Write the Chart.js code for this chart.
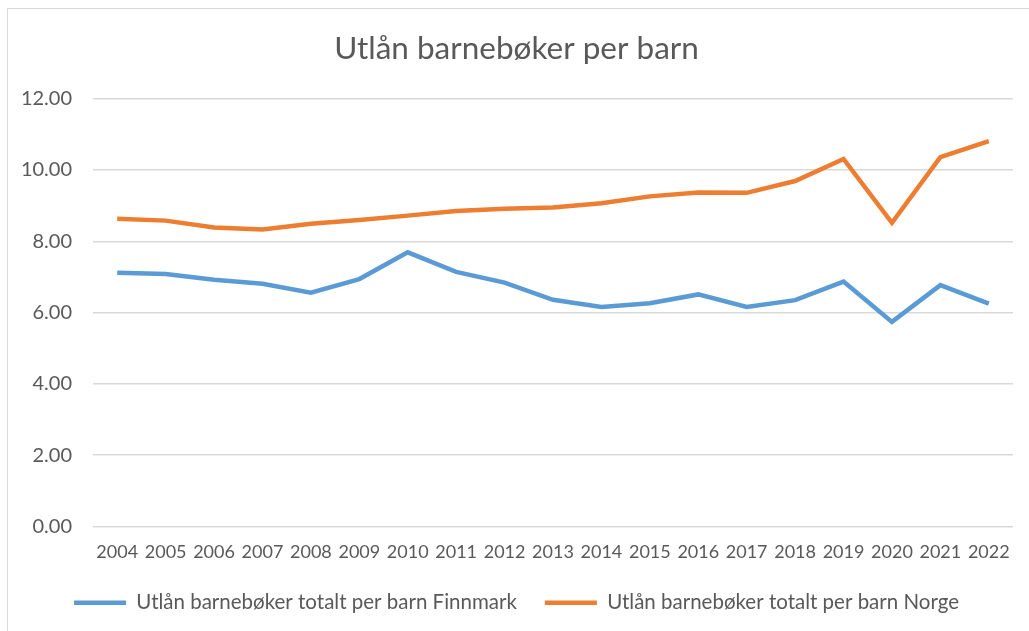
<!DOCTYPE html>
<html>
<head>
<meta charset="utf-8">
<script src="https://cdn.jsdelivr.net/npm/chart.js@4/dist/chart.umd.min.js"></script>
<style>
  html, body { margin: 0; padding: 0; background: #ffffff; }
  #wrap { position: relative; width: 1029px; height: 631px; overflow: hidden; }
  #frame { position: absolute; left: 7px; top: 8px; width: 1100px; height: 700px; border: 1px solid #d9d9d9; box-sizing: border-box; }
  #c { position: absolute; left: 0; top: 0; }
</style>
</head>
<body>
<div id="wrap">
  <div id="frame"></div>
  <canvas id="c" width="1029" height="631"></canvas>
</div>
<script>
const chartTitle = 'Utlån barnebøker per barn';
const years = ['2004','2005','2006','2007','2008','2009','2010','2011','2012','2013','2014','2015','2016','2017','2018','2019','2020','2021','2022'];
const finnmarkLabel = 'Utlån barnebøker totalt per barn Finnmark';
const norgeLabel = 'Utlån barnebøker totalt per barn Norge';
const finnmark = [7.12, 7.08, 6.92, 6.81, 6.56, 6.94, 7.69, 7.14, 6.84, 6.36, 6.16, 6.26, 6.51, 6.16, 6.35, 6.87, 5.74, 6.77, 6.25];
const norge = [8.63, 8.58, 8.39, 8.33, 8.49, 8.60, 8.72, 8.85, 8.91, 8.95, 9.07, 9.26, 9.37, 9.36, 9.69, 10.31, 8.52, 10.36, 10.81];
const yMin = 0, yMax = 12, yStep = 2;

const textColor = '#595959';
const fontFamily = 'Lato, "Open Sans", sans-serif';

new Chart(document.getElementById('c'), {
  type: 'line',
  data: {
    labels: years,
    datasets: [
      { label: finnmarkLabel, data: finnmark, borderColor: '#5B9BD5', backgroundColor: '#5B9BD5',
        borderWidth: 4.5, pointRadius: 0, tension: 0, fill: false, pointStyle: 'line' },
      { label: norgeLabel, data: norge, borderColor: '#ED7D31', backgroundColor: '#ED7D31',
        borderWidth: 4.5, pointRadius: 0, tension: 0, fill: false, pointStyle: 'line' }
    ]
  },
  options: {
    responsive: false,
    animation: false,
    layout: { padding: { left: 20, right: 16, top: 16, bottom: 8 } },
    plugins: {
      title: {
        display: true, text: chartTitle, color: textColor,
        font: { family: fontFamily, size: 31.5, weight: 'normal' },
        padding: { top: 14, bottom: 30.9 }
      },
      legend: {
        position: 'bottom',
        labels: {
          usePointStyle: true, pointStyleWidth: 52, boxHeight: 10,
          color: textColor, padding: 28,
          font: { family: fontFamily, size: 20.5 }
        }
      },
      tooltip: { enabled: false }
    },
    scales: {
      x: {
        offset: true,
        grid: { display: false, drawTicks: false },
        border: { display: false },
        ticks: { color: textColor, font: { family: fontFamily, size: 18 }, padding: 15,
                 autoSkip: false, maxRotation: 0, minRotation: 0 },
        afterFit: s => { s.height = 38; }
      },
      y: {
        min: yMin, max: yMax,
        grid: { color: '#d9d9d9', lineWidth: 1.5, drawTicks: false },
        border: { display: false },
        ticks: { stepSize: yStep, color: textColor, font: { family: fontFamily, size: 20 }, padding: 21,
                 callback: v => v.toFixed(2) },
        afterFit: s => { s.width = 73; }
      }
    }
  }
});
</script>
</body>
</html>
